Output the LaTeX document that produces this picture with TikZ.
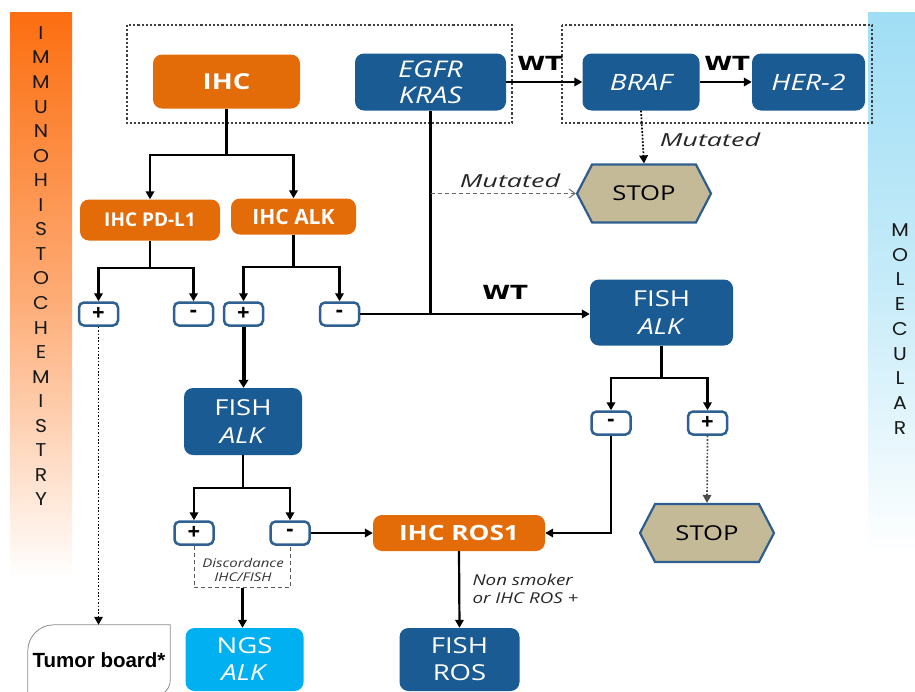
\documentclass[tikz,border=0pt]{standalone}
\usepackage{fontspec}
\setmainfont{Open Sans}[FakeStretch=1.25]
\newfontfamily\plainos{Open Sans}
\newfontfamily\mutfont{Open Sans}[FakeStretch=1.5]
\newfontfamily\wtfont{DejaVu Sans}[FakeStretch=1.3]
\newfontfamily\lsans{Liberation Sans}
\newfontfamily\popp{Poppins}[FakeStretch=1.1]
\usetikzlibrary{arrows.meta,shapes.symbols,shapes.geometric}
\definecolor{ihcor}{RGB}{227,108,9}
\definecolor{molbl}{RGB}{27,91,148}
\definecolor{ngsbl}{RGB}{0,176,240}
\definecolor{stopfill}{RGB}{196,186,152}
\definecolor{stopdraw}{RGB}{47,94,142}
\definecolor{pmdraw}{RGB}{46,96,146}
\definecolor{barorange}{RGB}{252,110,16}
\definecolor{barcyan}{RGB}{160,222,245}
\begin{document}
\begin{tikzpicture}[x=1pt,y=-1pt,
  obox/.style={rounded corners=9pt, text=white, align=center, inner sep=0pt},
  orbox/.style={obox, fill=ihcor, font=\bfseries\fontsize{21}{24}\selectfont},
  blbox/.style={obox, fill=molbl, font=\fontsize{22}{28}\selectfont},
  pmbox/.style={draw=pmdraw, line width=2.5pt, rounded corners=5pt, fill=white, minimum width=39pt, minimum height=23pt, inner sep=0pt, font=\plainos\bfseries\fontsize{22}{22}\selectfont},
  stophex/.style={shape=signal, signal to=east and west, signal pointer angle=125, fill=stopfill, draw=stopdraw, line width=2.2pt, inner sep=0pt, minimum width=134pt, minimum height=58pt, font=\fontsize{20.5}{20}\selectfont},
  wire/.style={line width=2.2pt},
  conn/.style={line width=2.2pt, -{Triangle[length=8pt,width=8.5pt]}},
  thickconn/.style={line width=4pt, -{Triangle[length=8pt,width=9.5pt]}},
  dotconn/.style={line width=1.7pt, dash pattern=on 1.7pt off 1.7pt, -{Triangle[length=8pt,width=8.5pt]}},
  lbl/.style={font=\wtfont\bfseries\fontsize{19.5}{19}\selectfont},
  mut/.style={font=\mutfont\itshape\fontsize{18}{18}\selectfont, text=black!85},
  groupbox/.style={draw=black!75, line width=2.2pt, dash pattern=on 2.2pt off 2pt},
  barletter/.style={font=\popp\fontsize{18.5}{18}\selectfont, text=black!90}
]
\useasboundingbox (0,0) rectangle (915,691);
\clip (0,0) rectangle (915,691);
% side bars
\shade[top color=barorange, bottom color=white, middle color=barorange!58!white] (10,12) rectangle (72,578);
\shade[top color=barcyan, bottom color=white, middle color=barcyan!60!white] (868,12) rectangle (915,555);
\foreach \l [count=\i from 0] in {I,M,M,U,N,O,H,I,S,T,O,C,H,E,M,I,S,T,R,Y}
  \node[barletter] (imm\i) at (41,33+\i*24.55) {\l};
\foreach \l [count=\i from 0] in {M,O,L,E,C,U,L,A,R}
  \node[barletter] (mol\i) at (900,230+\i*24.75) {\l};
% group boxes
\draw[groupbox] (127,25) rectangle (512,123);
\draw[groupbox] (562,25) rectangle (872,123);
% top row
\node[orbox, minimum width=147pt, minimum height=54pt, font=\bfseries\fontsize{22}{24}\selectfont] (ihc) at (226.5,81.5) {IHC};
\node[blbox, minimum width=151pt, minimum height=57pt, font=\itshape\fontsize{23}{26}\selectfont] (egfr) at (430.5,82) {EGFR\\KRAS};
\node[blbox, minimum width=117pt, minimum height=57pt, font=\itshape\fontsize{22.5}{26}\selectfont] (braf) at (641,82) {BRAF};
\node[blbox, minimum width=113pt, minimum height=57pt, font=\itshape\fontsize{22.5}{26}\selectfont] (her) at (808.5,82) {HER-2};
\node[stophex] (stop1) at (644,193.5) {STOP};
% IHC level 2
\node[orbox, minimum width=140pt, minimum height=41pt, font=\plainos\bfseries\fontsize{19}{20}\selectfont] (pdl) at (150,220) {IHC PD-L1};
\node[orbox, minimum width=125pt, minimum height=36pt, font=\plainos\bfseries\fontsize{21}{22}\selectfont] (alk) at (293.5,216.5) {IHC ALK};
% +/- level 1
\node[pmbox] (p1) at (98.5,314) {+};
\node[pmbox] (m1) at (193.5,314) {-};
\node[pmbox] (p2) at (243.5,314) {+};
\node[pmbox] (m2) at (339.5,314) {-};
% FISH ALK right
\node[blbox, minimum width=143pt, minimum height=66pt] (fishr) at (661.5,312.5) {FISH\\\textit{ALK}};
\node[pmbox] (m3) at (611,423) {-};
\node[pmbox] (p3) at (707.5,423) {+};
\node[stophex] (stop2) at (707,533) {STOP};
% FISH ALK left
\node[blbox, minimum width=118pt, minimum height=67pt] (fishl) at (243,421.5) {FISH\\\textit{ALK}};
\node[pmbox] (p4) at (194,533) {+};
\node[pmbox] (m4) at (290,533) {-};
\node[orbox, minimum width=172pt, minimum height=36pt] (ros1) at (459,533) {IHC ROS1};
% bottom row
\node[obox, fill=ngsbl, minimum width=118pt, minimum height=63pt, font=\fontsize{22}{27}\selectfont] (ngs) at (244.5,659.5) {NGS\\\textit{ALK}};
\node[blbox, minimum width=120pt, minimum height=63pt, font=\fontsize{22}{27}\selectfont] (fros) at (459.5,659.5) {FISH\\ROS};
\node[minimum width=142pt, minimum height=70pt, inner sep=0pt, font=\lsans\bfseries\fontsize{20.5}{20}\selectfont] (tb) at (99,660) {Tumor board*};
\draw[black!45, line width=0.8pt] (tb.south west) {[rounded corners=26pt] -- (tb.north west) -- (tb.north)} -- (tb.north east) {[rounded corners=16pt] -- ([yshift=-1pt]tb.south east) -- (tb.south)};
% labels
\node[lbl] (wt1) at (540,63) {WT};
\node[lbl] (wt2) at (727,63) {WT};
\node[lbl] (wt3) at (505,292) {WT};
\node[mut] (mut1) at (710,140) {Mutated};
\node[mut] (mut2) at (510,181) {Mutated};
\node[font=\itshape\fontsize{12}{14.5}\selectfont, text=black!80, align=center] (disc) at (243,570) {Discordance\\IHC/FISH};
\node[font=\itshape\fontsize{15}{18}\selectfont, text=black!85, align=left, anchor=west] (nons) at (469,589) {Non smoker\\or IHC ROS +};
% connectors
\draw[conn] (egfr.east) -- (braf.west);
\draw[conn] (braf.east) -- (her.west);
\draw[dotconn] (braf.south) -- (stop1.north);
\draw[wire] (egfr.south) -- (egfr.south |- m2.east);
\draw[black!60, line width=0.9pt, dash pattern=on 4pt off 3pt, -{Straight Barb[length=6pt,width=9pt]}] (egfr.south |- stop1.west) -- (stop1.west);
\draw[conn] (ihc.south) -- ++(0,46.5) -| (pdl.north);
\draw[conn] (ihc.south) ++(0,46.5) -| (alk.north);
\draw[conn] (pdl.south) -- ++(0,27) -| (p1.north);
\draw[conn] (pdl.south) ++(0,27) -| (m1.north);
\draw[conn] (alk.south) -- ++(0,32.5) -| (p2.north);
\draw[conn] (alk.south) ++(0,32.5) -| (m2.north);
\draw[conn] (m2.east) -- (fishr.west |- m2.east);
\draw[conn] (fishr.south) -- ++(0,32) -| (m3.north);
\draw[conn] (fishr.south) ++(0,32) -| (p3.north);
\draw[conn] (m3.south) |- (ros1.east);
\draw[dotconn, black!70] (p3.south) -- (stop2.north);
\draw[thickconn] (p2.south) -- (fishl.north -| p2.south);
\draw[conn] (fishl.south) -- ++(0,33) -| (p4.north);
\draw[conn] (fishl.south) ++(0,33) -| (m4.north);
\draw[conn] (m4.east) -- (ros1.west);
\draw[black!65, line width=0.9pt, dash pattern=on 4pt off 3pt] (p4.south) -- ++(0,42) coordinate (b1) -| (m4.south);
\draw[conn] (ngs.north |- b1) ++(-2,0) -- ([xshift=-2pt]ngs.north);
\draw[conn] (ros1.south) -- (fros.north);
\draw[dotconn] (p1.south) -- (tb.north -| p1.south);
\end{tikzpicture}
\end{document}
